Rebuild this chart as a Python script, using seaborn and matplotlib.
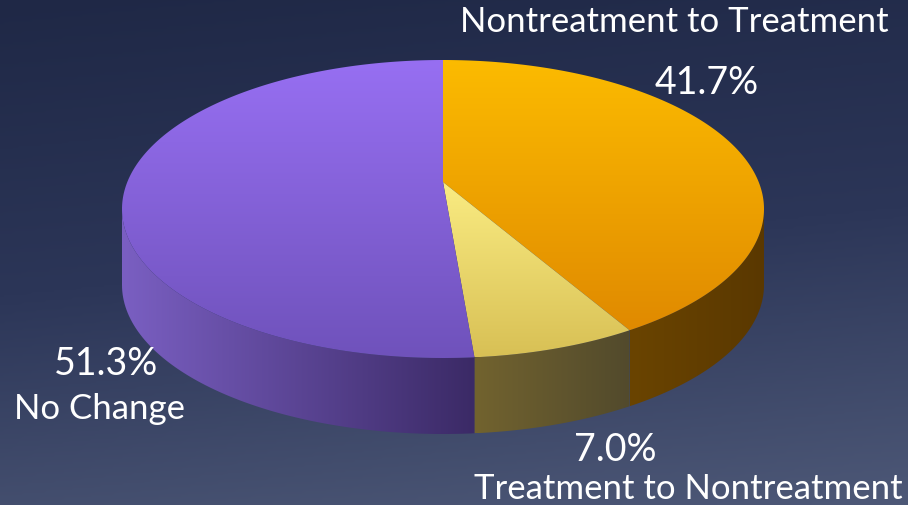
import numpy as np
import matplotlib.pyplot as plt
import seaborn as sns
from matplotlib.patches import Polygon
from matplotlib.colors import LinearSegmentedColormap

sns.set_theme(style="white")
plt.rcParams['font.family'] = ['Lato', 'DejaVu Sans']

# data
labels = ['Nontreatment to Treatment', 'Treatment to Nontreatment', 'No Change']
shares = [41.7, 7.0, 51.3]
# top face gradient (light, dark), side gradient (left, right)
top_colors = [('#fcbb00', '#e08a00'), ('#faec82', '#d8c055'), ('#976ff2', '#6f52bb')]
side_colors = [('#6a4400', '#5a3800'), ('#72632f', '#524a2c'), ('#7a5fc2', '#3b2a66')]

W, H = 908, 506
cx, cy, rx, ry, depth = 443, 210, 321, 149, 76
tilt = 0.181  # perspective shift of the pie centre toward the back


def project(theta):
    # perspective view of the round pie: angle on the pie -> point on the ellipse
    t = np.radians(theta)
    x, y = np.cos(t), np.sin(t)
    d = 1 + tilt * y
    xp = x * np.sqrt(1 - tilt ** 2) / d
    yp = (y + tilt) / d
    return np.degrees(np.arctan2(yp, xp))


def ell(t):
    t = np.radians(t)
    return cx + rx * np.cos(t), cy - ry * np.sin(t)


def grad_fill(ax, verts, c1, c2, horizontal=False):
    poly = Polygon(verts, closed=True, facecolor='none', edgecolor='none')
    ax.add_patch(poly)
    cmap = LinearSegmentedColormap.from_list('g', [c1, c2])
    xs, ys = verts[:, 0], verts[:, 1]
    g = np.linspace(0, 1, 256)
    img = g[None, :] if horizontal else g[:, None]
    im = ax.imshow(img, cmap=cmap, extent=(xs.min(), xs.max(), ys.max(), ys.min()),
                   aspect='auto', interpolation='bilinear', zorder=2)
    im.set_clip_path(poly)


def main():
    fig = plt.figure(figsize=(W / 100, H / 100), dpi=100)
    ax = fig.add_axes([0, 0, 1, 1])
    ax.set_xlim(0, W)
    ax.set_ylim(H, 0)
    ax.axis('off')

    # background
    bg = LinearSegmentedColormap.from_list('bg', ['#1f2846', '#2c3658', '#4d5877'])
    yy = np.linspace(0, 1, 200)[:, None]
    xx = np.linspace(0, 1, 200)[None, :]
    ax.imshow(yy * 0.85 + xx * 0.15, cmap=bg, extent=(0, W, H, 0), aspect='auto', zorder=0)

    # slice angles, clockwise from 12 o'clock, then put in perspective
    raw = 90 - 360 * np.concatenate([[0], np.cumsum(shares)]) / 100
    bounds = [90.0] + [project(a) for a in raw[1:-1]] + [-270.0]
    for i in range(1, len(bounds) - 1):
        while bounds[i] > bounds[i - 1]:
            bounds[i] -= 360
    cen_y = cy - ry * tilt

    # sides (front half only: angles between -180 and 0)
    for i in range(len(shares)):
        a1, a2 = bounds[i], bounds[i + 1]
        s1, s2 = min(a1, 0), max(a2, -180)
        if s1 <= s2:
            continue
        t = np.linspace(s1, s2, 80)
        x, y = ell(t)
        verts = np.column_stack([np.concatenate([x, x[::-1]]),
                                 np.concatenate([y, y[::-1] + depth])])
        grad_fill(ax, verts, side_colors[i][0], side_colors[i][1], horizontal=True)

    # top faces
    for i in range(len(shares)):
        a1, a2 = bounds[i], bounds[i + 1]
        t = np.linspace(a1, a2, 200)
        x, y = ell(t)
        verts = np.column_stack([np.concatenate([[cx], x]), np.concatenate([[cen_y], y])])
        grad_fill(ax, verts, top_colors[i][0], top_colors[i][1])

    # labels
    kw = dict(color='white', fontweight='normal', zorder=5, ha='center', va='center')
    ax.text(674, 22, labels[0], fontsize=25, **kw)
    ax.text(707, 83, f'{shares[0]:.1f}%', fontsize=27, **kw)
    ax.text(615, 450, f'{shares[1]:.1f}%', fontsize=27, **kw)
    ax.text(688, 489, labels[1], fontsize=25, **kw)
    ax.text(106, 364, f'{shares[2]:.1f}%', fontsize=27, **kw)
    ax.text(100, 409, labels[2], fontsize=25, **kw)

    plt.savefig('out.png', dpi=100)


if __name__ == '__main__':
    main()
